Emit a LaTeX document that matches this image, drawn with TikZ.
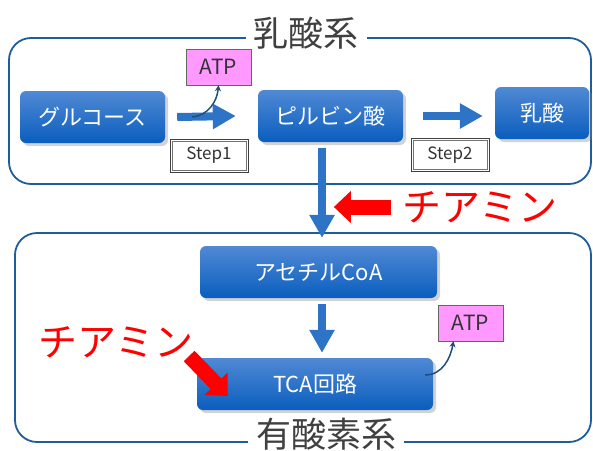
\documentclass[tikz,border=0pt]{standalone}
\usepackage{fontspec}
\setmainfont{Noto Sans CJK JP}
\usetikzlibrary{arrows.meta,shadows}

\definecolor{frameblue}{HTML}{1F5C99}
\definecolor{boxtop}{HTML}{5089D4}
\definecolor{boxbot}{HTML}{0A5EBE}
\definecolor{arrblue}{HTML}{2E74C6}
\definecolor{atpfill}{HTML}{FF99FF}
\definecolor{curveblue}{HTML}{1F4E79}

\tikzset{
  stage/.style={rounded corners=6pt, top color=boxtop, bottom color=boxbot,
    text=white, align=center, font=\fontsize{22}{24}\selectfont,
    drop shadow={shadow xshift=3pt, shadow yshift=-3pt, opacity=0.35}},
  atpbox/.style={draw=black!60, fill=atpfill, text=black!80, minimum width=65pt,
    minimum height=36pt, font=\fontsize{21}{23}\selectfont},
  stepbox/.style={draw=black!75, line width=1pt, text=black!80,
    minimum width=78pt, minimum height=33pt, font=\fontsize{17}{19}\selectfont},
  stepinner/.style={draw=black!55, line width=1pt},
  frame/.style={draw=frameblue, line width=1.8pt, rounded corners=22pt},
  title/.style={fill=white, text=black!75, inner xsep=8pt, inner ysep=2pt,
    font=\fontsize{35}{37}\selectfont},
  thiamine/.style={text=red, font=\fontsize{39}{41}\selectfont},
  bigarrow/.style={arrblue, line width=8pt, -{Triangle[length=23pt,width=24pt]}},
  redarrow/.style={red, line width=15pt, -{Triangle[length=17pt,width=31pt]}},
  atparrow/.style={curveblue, line width=1.5pt, -{Stealth[length=6pt,width=6pt]}}
}

\begin{document}
\begin{tikzpicture}[x=1pt,y=-1pt]
        \useasboundingbox (0,0) rectangle (593,450);

        % frames
        \draw [frame] (9,38) rectangle (591,184);
        \draw [frame] (15,233) rectangle (591,442);
        \node [title] (anaer) at (306,33) {乳酸系};
        \node [title] (aer) at (326,434) {有酸素系};

        \node [stage, minimum width=145pt, minimum height=52pt] (glu) at (92.5,117) {グルコース};
        \node [stage, minimum width=145pt, minimum height=52pt] (pyr) at (330.5,116) {ピルビン酸};
        \node [stage, minimum width=94pt, minimum height=52pt] (lac) at (542,113) {乳酸};
        \node [stage, minimum width=237pt, minimum height=52pt] (acoa) at (318.5,272) {アセチルCoA};
        \node [stage, minimum width=236pt, minimum height=52pt] (tca) at (315,384) {TCA回路};

        \node [atpbox] (atp1) at (218.5,67) {ATP};
        \node [atpbox] (atp2) at (470.5,323) {ATP};
        \node [stepbox] (step1) at (209,155.5) {Step1};
        \node [stepbox] (step2) at (450,155) {Step2};
        \draw [stepinner] ([xshift=2.5pt,yshift=-2.5pt]step1.north west) rectangle ([xshift=-2.5pt,yshift=2.5pt]step1.south east);
        \draw [stepinner] ([xshift=2.5pt,yshift=-2.5pt]step2.north west) rectangle ([xshift=-2.5pt,yshift=2.5pt]step2.south east);

        \node [thiamine] (thia1) at (480,207) {チアミン};
        \node [thiamine] (thia2) at (116,342) {チアミン};

        \draw [bigarrow] ([xshift=12pt]glu.east) -- ([xshift=-22pt]pyr.west);
        \draw [bigarrow] ([xshift=20pt]pyr.east) -- ([xshift=-12pt]lac.west |- pyr.east);
        \draw [bigarrow] ([xshift=-8.5pt,yshift=-6pt]pyr.south) -- ([xshift=3.5pt,yshift=8pt]acoa.north);
        \draw [bigarrow] ([xshift=3.5pt,yshift=-6pt]acoa.south) -- ([xshift=7pt,yshift=5pt]tca.north);

        \draw [atparrow] ([xshift=27pt]glu.east) to[out=5,in=-95] (atp1.south);
        \draw [atparrow] ([xshift=-8pt,yshift=9pt]tca.east) to[out=0,in=-100] ([xshift=-17pt]atp2.south);

        \draw [redarrow] ([xshift=-8pt]thia1.west) -- ([xshift=-65pt]thia1.west);
        \draw [redarrow] ([xshift=-8pt,yshift=-14pt]thia2.east) -- ([xshift=31pt,yshift=-12pt]tca.west);
\end{tikzpicture}
\end{document}
